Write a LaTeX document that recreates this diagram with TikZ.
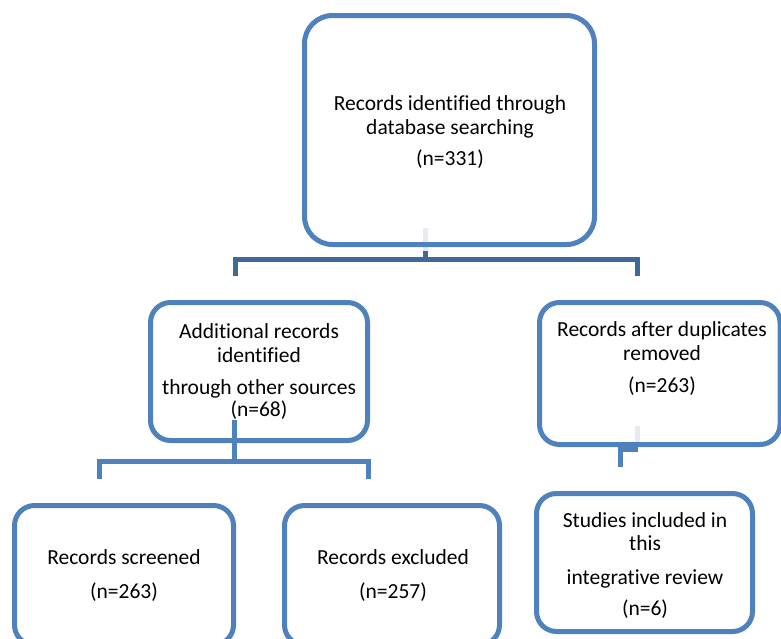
\documentclass[tikz,border=0pt]{standalone}
\usepackage{fontspec}
\setmainfont{Carlito}[Ligatures=CommonOff]
\definecolor{boxblue}{RGB}{79,129,189}
\definecolor{darkblue}{RGB}{64,104,152}
\definecolor{faint}{RGB}{230,234,241}
\tikzset{
  rbox/.style={draw=boxblue, line width=5pt, rounded corners=#1, inner sep=0pt, fill=none},
  txt/.style={align=center, font=\fontsize{21.5}{24}\selectfont, inner sep=0pt, text=black},
  conn/.style={draw=boxblue, line width=5pt},
  darkconn/.style={draw=darkblue, line width=5pt},
  faintconn/.style={draw=faint, line width=5pt},
}
\begin{document}
\begin{tikzpicture}[x=1pt,y=-1pt]
\useasboundingbox (0,0) rectangle (781,638);
% connector end points
\coordinate (a1) at (425,228);
\coordinate (a2) at (425,251);
\coordinate (a3) at (425,259);
\coordinate (aL) at (235,259);
\coordinate (aR) at (637,259);
\coordinate (aLd) at (235,276);
\coordinate (aRd) at (637,276);
\coordinate (b1) at (234.5,420);
\coordinate (b2) at (234.5,461);
\coordinate (bL) at (99.5,461);
\coordinate (bR) at (368.5,461);
\coordinate (bLd) at (99.5,479);
\coordinate (bRd) at (368.5,479);
\coordinate (c1) at (637.5,426);
\coordinate (c2) at (637.5,445);
\coordinate (c3) at (637.5,449.5);
\coordinate (c4) at (620,449.5);
\coordinate (c5) at (620,467);
% connectors
\draw[faintconn] (a1) -- (a2);
\draw[darkconn] (a2) -- (a3);
\draw[darkconn] (aLd) -- (aL) -- (aR) -- (aRd);
\draw[conn] (b1) -- (b2);
\draw[conn] (bLd) -- (bL) -- (bR) -- (bRd);
\draw[faintconn] (c1) -- (c2);
\draw[conn] (c3) -- (c4) -- (c5);
% boxes
\node[rbox=28pt, minimum width=290pt, minimum height=229pt] (top) at (449.5,130) {};
\node[rbox=20pt, minimum width=217pt, minimum height=138pt] (midl) at (259,371.5) {};
\node[rbox=20pt, minimum width=240.5pt, minimum height=142pt] (midr) at (659.75,373.5) {};
\node[rbox=20pt, minimum width=219pt, minimum height=139.5pt] (scr) at (124,575.25) {};
\node[rbox=20pt, minimum width=215pt, minimum height=139.5pt] (exc) at (392,575.25) {};
\node[rbox=20pt, minimum width=216pt, minimum height=138pt] (stu) at (644.5,562.5) {};
% texts
\node[txt] (ttop) at (450,132.5) {Records identified through\\database searching\\[7pt](n=331)};
\node[txt] (tmidl) at (259,371.5) {Additional records\\identified\\[8pt]through other sources\\[-2pt](n=68)};
\node[txt] (tmidr) at (662,359) {Records after duplicates\\removed\\[8pt](n=263)};
\node[txt] (tscr) at (124,576) {Records screened\\[10pt](n=263)};
\node[txt] (texc) at (393,576) {Records excluded\\[10pt](n=257)};
\node[txt] (tstu) at (645,566) {Studies included in\\[-1pt]this\\[10pt]integrative review\\[7pt](n=6)};
\end{tikzpicture}
\end{document}
